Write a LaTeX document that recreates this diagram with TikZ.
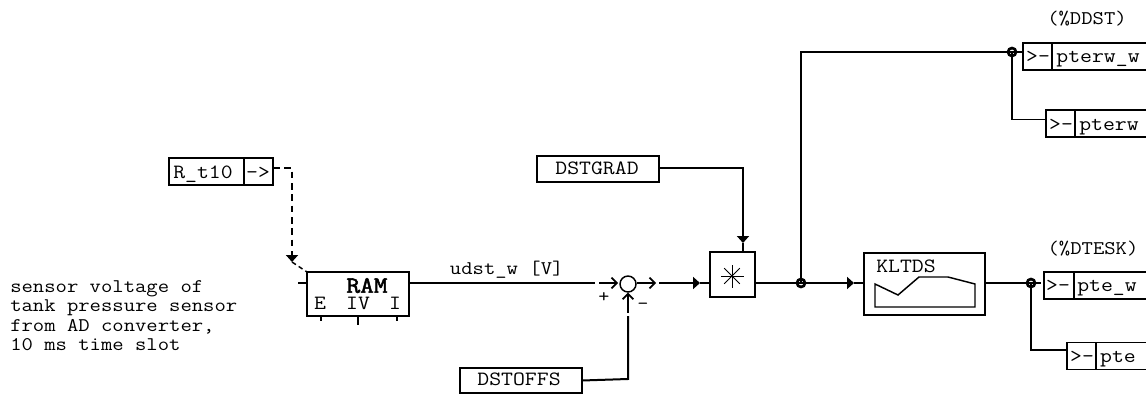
\documentclass[tikz,border=0pt]{standalone}
\usepackage{fontspec}
\setmonofont[FakeStretch=1.14]{Latin Modern Mono}
\newfontfamily\ramfont[FakeStretch=1.14, FakeBold=2.2]{Latin Modern Mono}
\usetikzlibrary{arrows.meta}
\tikzset{
	fbox/.style={draw, line width=1.1pt, inner sep=0pt, outer sep=0pt},
	wire/.style={line width=1.05pt},
	heavy/.style={line width=1.5pt},
	junction/.style={draw, circle, line width=2pt, minimum size=6pt, inner sep=0pt},
	lbl/.style={font=\fontsize{15.2}{16}\ttfamily, inner sep=0pt, anchor=base},
	small/.style={font=\fontsize{14.5}{16}\ttfamily, inner sep=0pt, anchor=base},
	solidtip/.style={-{Triangle[length=5.2pt,width=9pt]}},
	opentip/.style={-{Straight Barb[length=4pt,width=8pt]}, line width=1.3pt}
}
\begin{document}
\begin{tikzpicture}[x=0.75pt, y=-0.75pt]
	\useasboundingbox (0,0) rectangle (1146,396);
	% input text
	\foreach \n/\y/\t in {1/292.7/{sensor voltage of},2/311.7/{tank pressure sensor},3/331/{from AD converter,},4/350/{10 ms time slot}}
		\node[small, anchor=base west] (note\n) at (10,\y) {\t};
	% source and RAM block
	\node[fbox, minimum width=56.25pt, minimum height=20.25pt] (rt) at (206.5,171.5) {};
	\node[lbl] (rtlbl) at (203,178.3) {R\_t10};
	\node[fbox, minimum width=21.75pt, minimum height=20.25pt] (rtarrow) at (258.5,171.5) {};
	\node[lbl] (rtarrowlbl) at (258,178.3) {->};
	\node[fbox, minimum width=76.5pt, minimum height=33pt] (ram) at (358,294) {};
	\node[lbl, font=\fontsize{17.5}{18}\ramfont] (ramlbl) at (367,292.7) {RAM};
	\node[lbl] (rame) at (320,309) {E};
	\node[lbl] (ramiv) at (358,309) {IV};
	\node[lbl] (rami) at (395,309) {I};
	\foreach \x/\y in {321/321,358/325,397/321} \draw[wire] (\x,316) -- (\x,\y);
	\coordinate (dashtop) at (292,168);
	\coordinate (dashend) at (292,255);
	\coordinate (dashtip) at (292,262);
	\draw[wire, dash pattern=on 5pt off 3.5pt] (273,168) -- (dashtop) -- (dashend);
	\draw[solidtip, wire] (dashend) -- (dashtip);
	\draw[wire, dash pattern=on 3.5pt off 2.5pt] (dashtip) -- (ram.north west);
	\coordinate (ramin) at (298,283);
	\draw[wire] (ramin) -- (ram.west |- ramin);
	\node[small] (ramout) at (506.7,274) {udst\_w [V]};
	% summing point
	\node[draw, circle, line width=1.1pt, minimum size=12pt, inner sep=0pt] (sum) at (628,284) {};
	\coordinate (busa) at (595,283);
	\coordinate (busb) at (599,283);
	\coordinate (suma) at (618,283);
	\coordinate (sumb) at (656,283);
	\draw[wire] (ram.east |- busa) -- (busa);
	\draw[opentip] (busb) -- (suma);
	\draw[opentip] (sum.east |- sumb) -- (sumb);
	\node[font=\fontsize{14.2}{16}\ttfamily, inner sep=0pt] (plus) at (604,298) {+};
	\node[font=\fontsize{14.2}{16}\ttfamily, inner sep=0pt] (minus) at (643,306) {–};
	\node[fbox, minimum width=91.5pt, minimum height=18.75pt] (offs) at (521,380.5) {};
	\node[lbl] (offslbl) at (519,385) {DSTOFFS};
	\coordinate (offsa) at (628,316);
	\coordinate (offsb) at (628,313);
	\draw[heavy] (offs.east) -- (628,379) -- (offsa);
	\draw[opentip] (offsb) -- (sum.south);
	% multiplier
	\node[fbox, minimum width=33.75pt, minimum height=33.75pt] (mul) at (732.5,274.5) {};
	\foreach \a in {0,90} \draw[line width=0.7pt] (732,276) ++(\a:11.5) -- ++(\a+180:23);
	\foreach \a in {45,135} \draw[line width=0.7pt] (732,276) ++(\a:11) -- ++(\a+180:22);
	\coordinate (mula) at (659,283);
	\coordinate (mulb) at (700,283);
	\draw[solidtip, wire] (mula) -- (mulb);
	\draw[wire] (mulb) -- (mul.west |- mulb);
	\node[fbox, minimum width=91.5pt, minimum height=19.5pt] (grad) at (598,169) {};
	\node[lbl] (gradlbl) at (597,174) {DSTGRAD};
	\coordinate (mulc) at (743,243);
	\draw[solidtip, wire] (grad.east |- 659,168) -- (743,168) -- (mulc);
	\draw[wire] (mulc) -- (mul.north -| mulc);
	\node[junction] (ja) at (801,283) {};
	\coordinate (mulout) at (763,283);
	\draw[wire] (mul.east |- ja) -- (mulout);
	\draw[heavy] (mulout) -- (ja.center);
	% outputs, upper branch
	\node[junction] (jb) at (1012,52) {};
	\draw[heavy] (ja.center) -- (801,52) -- (jb.center);
	\node[fbox, minimum width=21.75pt, minimum height=20.25pt] (wa) at (1037.5,56.5) {};
	\node[lbl] (walbl) at (1038,62.3) {>-};
	\node[fbox, minimum width=73.5pt, minimum height=20.25pt] (wb) at (1101,56.5) {};
	\node[lbl] (wblbl) at (1098,62.3) {pterw\_w};
	\node[fbox, minimum width=21.75pt, minimum height=20.25pt] (ra) at (1060.5,123.5) {};
	\node[lbl] (ralbl) at (1061,130) {>-};
	\node[fbox, minimum width=56.25pt, minimum height=20.25pt] (rb) at (1112.5,123.5) {};
	\node[lbl] (rblbl) at (1109,130) {pterw};
	\coordinate (wstub) at (1022,52);
	\draw[wire] (jb.center) -- (wstub);
	\draw[wire] (jb.center) -- (1012,119.5) -- (ra.west |- 1012,119.5);
	\node[small] (ddst) at (1087,24) {(\%DDST)};
	% KLTDS and lower branch
	\node[fbox, minimum width=90.75pt, minimum height=46.5pt] (map) at (924.5,284) {};
	\node[lbl] (maplbl) at (906,272.3) {KLTDS};
	\draw[line width=1.1pt] (875,284) -- (898,295) -- (919,277) -- (948,277) -- (975,284) -- (975,307) -- (875,307) -- cycle;
	\coordinate (mapa) at (854,283);
	\draw[solidtip, wire] (ja.center) -- (mapa);
	\draw[wire] (mapa) -- (map.west |- mapa);
	\node[junction] (jc) at (1031,283) {};
	\coordinate (mapout) at (993,283);
	\draw[wire] (map.east |- jc) -- (mapout);
	\draw[heavy] (mapout) -- (jc.center);
	\node[fbox, minimum width=22.5pt, minimum height=20.25pt] (ea) at (1059,285.5) {};
	\node[lbl] (ealbl) at (1058,291.7) {>-};
	\node[fbox, minimum width=57pt, minimum height=20.25pt] (eb) at (1112,285.5) {};
	\node[lbl] (eblbl) at (1107,291.7) {pte\_w};
	\node[fbox, minimum width=21.75pt, minimum height=20pt] (pa) at (1081.5,356) {};
	\node[lbl] (palbl) at (1082,362.3) {>-};
	\node[fbox, minimum width=40.5pt, minimum height=20pt] (pb) at (1123,356) {};
	\node[lbl] (pblbl) at (1118,362.3) {pte};
	\coordinate (estub) at (1041,283);
	\draw[wire] (jc.center) -- (estub);
	\draw[wire] (jc.center) -- (1031,350) -- (pa.west |- 1031,350);
	\node[small] (dtesk) at (1093,254) {(\%DTESK)};
\end{tikzpicture}
\end{document}
